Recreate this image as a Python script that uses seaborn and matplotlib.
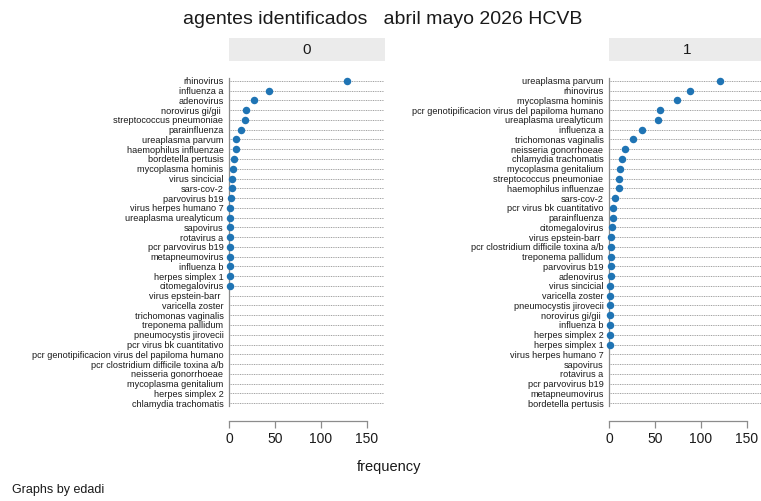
import matplotlib
matplotlib.use("Agg")
import matplotlib.pyplot as plt
import seaborn as sns
import numpy as np
import pandas as pd
from matplotlib.patches import Rectangle

# ---------------- data ----------------
cats_0 = ["rhinovirus", "influenza a", "adenovirus", "norovirus gi/gii ", "streptococcus pneumoniae",
          "parainfluenza", "ureaplasma parvum", "haemophilus influenzae", "bordetella pertusis",
          "mycoplasma hominis", "virus sincicial", "sars-cov-2", "parvovirus b19",
          "virus herpes humano 7", "ureaplasma urealyticum", "sapovirus", "rotavirus a",
          "pcr parvovirus b19", "metapneumovirus", "influenza b", "herpes simplex 1",
          "citomegalovirus", "virus epstein-barr ", "varicella zoster", "trichomonas vaginalis",
          "treponema pallidum", "pneumocystis jirovecii", "pcr virus bk cuantitativo",
          "pcr genotipificacion virus del papiloma humano", "pcr clostridium difficile toxina a/b",
          "neisseria gonorrhoeae", "mycoplasma genitalium", "herpes simplex 2", "chlamydia trachomatis"]
vals_0 = [128, 44, 27, 19, 17, 13, 8, 8, 5, 4, 3, 3, 2, 1, 1, 1, 1, 1, 1, 1, 1, 1,
          np.nan, np.nan, np.nan, np.nan, np.nan, np.nan, np.nan, np.nan, np.nan, np.nan, np.nan, np.nan]

cats_1 = ["ureaplasma parvum", "rhinovirus", "mycoplasma hominis",
          "pcr genotipificacion virus del papiloma humano", "ureaplasma urealyticum", "influenza a",
          "trichomonas vaginalis", "neisseria gonorrhoeae", "chlamydia trachomatis",
          "mycoplasma genitalium", "streptococcus pneumoniae", "haemophilus influenzae", "sars-cov-2",
          "pcr virus bk cuantitativo", "parainfluenza", "citomegalovirus", "virus epstein-barr ",
          "pcr clostridium difficile toxina a/b", "treponema pallidum", "parvovirus b19", "adenovirus",
          "virus sincicial", "varicella zoster", "pneumocystis jirovecii", "norovirus gi/gii ",
          "influenza b", "herpes simplex 2", "herpes simplex 1", "virus herpes humano 7", "sapovirus",
          "rotavirus a", "pcr parvovirus b19", "metapneumovirus", "bordetella pertusis"]
vals_1 = [121, 88, 74, 55, 53, 36, 26, 17, 14, 12, 11, 11, 7, 4, 4, 3, 2, 2, 2, 2, 2,
          1, 1, 1, 1, 1, 1, 1, np.nan, np.nan, np.nan, np.nan, np.nan, np.nan]

panel_labels = ["0", "1"]
xticks = [0, 50, 100, 150]
title = "agentes identificados   abril mayo 2026 HCVB"
xlabel = "frequency"
note = "Graphs by edadi"

# ---------------- figure ----------------
sns.set_theme(style="white")
plt.rcParams["font.family"] = ["Liberation Sans", "DejaVu Sans"]

W, H = 761, 501
fig = plt.figure(figsize=(W / 100, H / 100), dpi=100)
fig.patch.set_facecolor("white")

dot_color = "#1f74b4"
grid_color = "#a0a0a0"
axis_color = "#8c8c8c"

panel_left_px = [229, 609]
panel_w_px = 155
top_px, bot_px = 76, 408
xmax = panel_w_px / 0.92

def fx(px):
    return px / W

def fy(py):
    return 1 - py / H

for lab, cats, vals, lpx in zip(panel_labels, [cats_0, cats_1], [vals_0, vals_1], panel_left_px):
    ax = fig.add_axes([fx(lpx), fy(bot_px), fx(panel_w_px), (bot_px - top_px) / H])
    df = pd.DataFrame({"agent": cats, "frequency": vals})
    sns.stripplot(data=df, x="frequency", y="agent", order=cats, jitter=False,
                  color=dot_color, size=5.4, linewidth=0, ax=ax, zorder=3, clip_on=False)
    ax.set_xlim(0, xmax)
    ax.set_ylim(len(cats) - 0.5, -0.5)
    ax.set_xlabel("")
    ax.set_ylabel("")
    ax.set_facecolor("white")
    ax.grid(False)
    for i in range(len(cats)):
        ax.axhline(i, color=grid_color, lw=0.7, ls=(0, (1, 0.8)), zorder=1)
    for s in ["top", "right"]:
        ax.spines[s].set_visible(False)
    ax.spines["left"].set_color(axis_color)
    ax.spines["left"].set_linewidth(0.9)
    ax.spines["left"].set_bounds(len(cats) - 0.7, -0.3)
    ax.spines["bottom"].set_position(("outward", 9.5))
    ax.spines["bottom"].set_bounds(0, 150)
    ax.spines["bottom"].set_color(axis_color)
    ax.spines["bottom"].set_linewidth(0.9)
    ax.set_xticks(xticks)
    ax.set_xticklabels([str(t) for t in xticks])
    ax.tick_params(axis="x", bottom=True, direction="out", length=5, width=0.9, color=axis_color,
                   labelsize=10, pad=3, labelcolor="#1a1a1a")
    ax.tick_params(axis="y", left=False, length=0, labelsize=6.6, pad=4, labelcolor="#1a1a1a")

    # facet header strip
    hx0, hy0, hx1, hy1 = lpx, 38, lpx + panel_w_px + 1, 61
    fig.patches.append(Rectangle((fx(hx0), fy(hy1)), fx(hx1 - hx0), (hy1 - hy0) / H,
                                 transform=fig.transFigure, facecolor="#ebebeb",
                                 edgecolor="none", zorder=0))
    fig.text(fx((hx0 + hx1) / 2), fy((hy0 + hy1) / 2), lab, ha="center", va="center",
             fontsize=11, color="#1a1a1a")

fig.text(fx(383), fy(20), title, ha="center", va="center", fontsize=14, color="#1a1a1a")
fig.text(fx(389), fy(467), xlabel, ha="center", va="center", fontsize=10.5, color="#1a1a1a")
fig.text(fx(12), fy(490), note, ha="left", va="center", fontsize=9, color="#1a1a1a")

fig.savefig("out.png", dpi=100)
